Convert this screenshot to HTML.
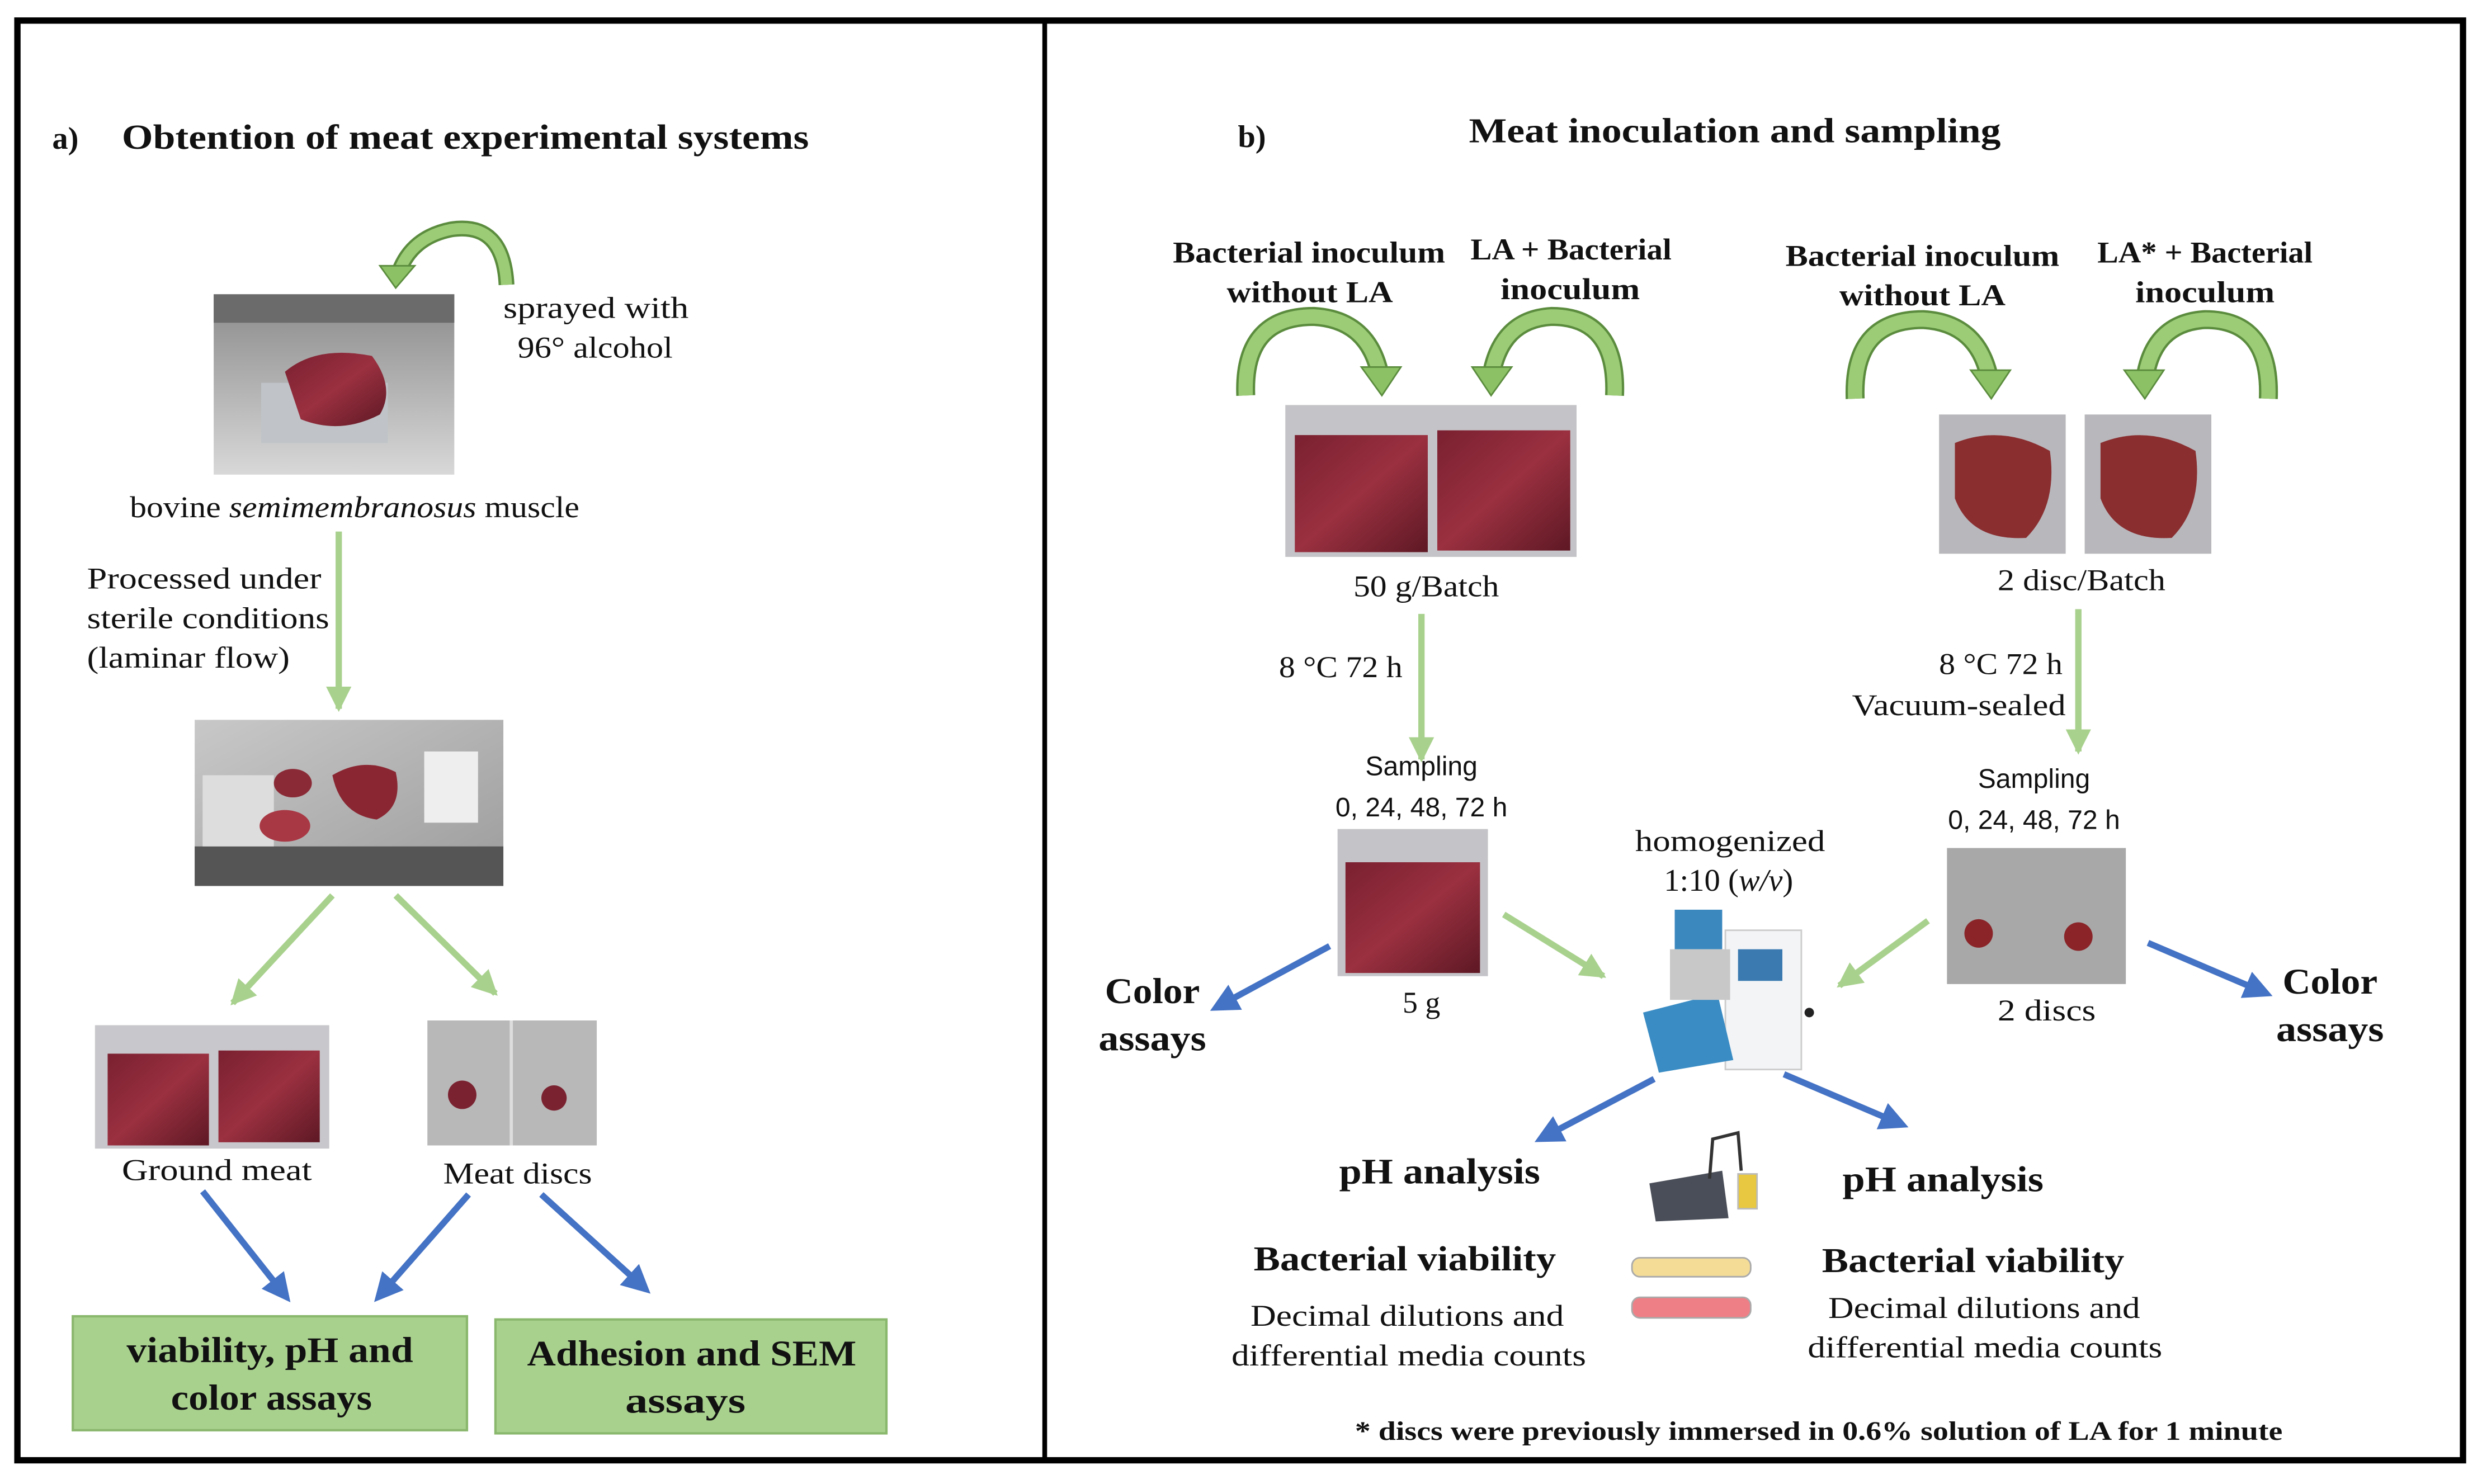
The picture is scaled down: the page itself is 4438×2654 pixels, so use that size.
<!DOCTYPE html>
<html><head><meta charset="utf-8">
<style>html,body{margin:0;padding:0;background:#fff}svg{display:block}</style></head>
<body>
<svg width="4438" height="2654" viewBox="0 0 1568 938" preserveAspectRatio="none" xmlns="http://www.w3.org/2000/svg">
<defs>
<marker id="mg" markerUnits="userSpaceOnUse" markerWidth="22" markerHeight="22" refX="14" refY="8" orient="auto"><path d="M0,0 L16,8 L0,16 Z" fill="#a9d18e"/></marker>
<marker id="mb" markerUnits="userSpaceOnUse" markerWidth="24" markerHeight="24" refX="14" refY="9" orient="auto"><path d="M0,0 L18,9 L0,18 Z" fill="#4472c4"/></marker>
<linearGradient id="meat" x1="0" y1="0" x2="1" y2="1"><stop offset="0" stop-color="#7a2030"/><stop offset="0.5" stop-color="#9a3040"/><stop offset="1" stop-color="#5e1824"/></linearGradient>
<linearGradient id="gr" x1="0" y1="0" x2="0" y2="1"><stop offset="0" stop-color="#8a8a8a"/><stop offset="1" stop-color="#d8d8d8"/></linearGradient>
<linearGradient id="gr2" x1="0" y1="0" x2="1" y2="1"><stop offset="0" stop-color="#c8c8c8"/><stop offset="1" stop-color="#9c9c9c"/></linearGradient>
</defs>
<rect x="0" y="0" width="1568" height="938" fill="#fff"/>
<rect x="11" y="13" width="1545" height="910" fill="none" stroke="#000" stroke-width="4"/>
<line x1="660" y1="13" x2="660" y2="923" stroke="#000" stroke-width="3"/>

<g font-family="Liberation Serif, serif" fill="#111" lengthAdjust="spacingAndGlyphs">
<!-- LEFT -->
<text x="33" y="94" font-size="20" font-weight="bold">a)</text>
<text x="77" y="94" font-size="22" font-weight="bold" textLength="434" lengthAdjust="spacingAndGlyphs">Obtention of meat experimental systems</text>
<path d="M320,180 Q318,140 285,145 Q260,150 252,172" fill="none" stroke="#5b8c3e" stroke-width="10"/>
<path d="M320,180 Q318,140 285,145 Q260,150 252,172" fill="none" stroke="#9ccc76" stroke-width="7"/>
<path d="M240,168 L262,168 L250,182 Z" fill="#8cc265" stroke="#5b8c3e" stroke-width="1"/>
<rect x="135" y="186" width="152" height="114" fill="url(#gr)"/>
<rect x="135" y="186" width="152" height="18" fill="#6b6b6b"/>
<rect x="165" y="242" width="80" height="38" fill="#c0c4c8"/>
<path d="M180,235 Q200,218 235,225 Q250,245 240,262 Q215,275 190,265 Z" fill="url(#meat)"/>
<text x="318" y="201" font-size="19" textLength="117" lengthAdjust="spacingAndGlyphs">sprayed with</text>
<text x="327" y="226" font-size="19" textLength="98" lengthAdjust="spacingAndGlyphs">96° alcohol</text>
<text x="82" y="327" font-size="19" textLength="284" lengthAdjust="spacingAndGlyphs">bovine <tspan font-style="italic">semimembranosus</tspan> muscle</text>
<line x1="214" y1="336" x2="214" y2="448" stroke="#a9d18e" stroke-width="4" marker-end="url(#mg)"/>
<text x="55" y="372" font-size="19" textLength="148" lengthAdjust="spacingAndGlyphs">Processed under</text>
<text x="55" y="397" font-size="19" textLength="153" lengthAdjust="spacingAndGlyphs">sterile conditions</text>
<text x="55" y="422" font-size="19" textLength="128" lengthAdjust="spacingAndGlyphs">(laminar flow)</text>
<rect x="123" y="455" width="195" height="105" fill="url(#gr2)"/>
<rect x="123" y="535" width="195" height="25" fill="#555"/>
<rect x="128" y="490" width="45" height="45" fill="#ddd"/>
<ellipse cx="185" cy="495" rx="12" ry="9" fill="#8a2a36"/>
<ellipse cx="180" cy="522" rx="16" ry="10" fill="#a83844"/>
<path d="M210,490 Q230,478 250,488 Q255,510 238,518 Q215,515 210,490Z" fill="#8a2632"/>
<rect x="268" y="475" width="34" height="45" fill="#eee"/>
<line x1="210" y1="566" x2="147" y2="634" stroke="#a9d18e" stroke-width="4" marker-end="url(#mg)"/>
<line x1="250" y1="566" x2="313" y2="628" stroke="#a9d18e" stroke-width="4" marker-end="url(#mg)"/>
<rect x="60" y="648" width="148" height="78" fill="#c8c8cc"/>
<rect x="68" y="666" width="64" height="58" fill="url(#meat)"/>
<rect x="138" y="664" width="64" height="58" fill="url(#meat)"/>
<rect x="270" y="645" width="107" height="79" fill="#b8b8b8"/>
<line x1="323" y1="645" x2="323" y2="724" stroke="#ddd" stroke-width="2"/>
<circle cx="292" cy="692" r="9" fill="#7a2230"/>
<circle cx="350" cy="694" r="8" fill="#7a2230"/>
<text x="77" y="746" font-size="19" textLength="120" lengthAdjust="spacingAndGlyphs">Ground meat</text>
<text x="280" y="748" font-size="19" textLength="94" lengthAdjust="spacingAndGlyphs">Meat discs</text>
<line x1="128" y1="753" x2="181" y2="820" stroke="#4472c4" stroke-width="4" marker-end="url(#mb)"/>
<line x1="296" y1="755" x2="239" y2="820" stroke="#4472c4" stroke-width="4" marker-end="url(#mb)"/>
<line x1="342" y1="755" x2="408" y2="815" stroke="#4472c4" stroke-width="4" marker-end="url(#mb)"/>
<rect x="46" y="832" width="249" height="72" fill="#a9d18e" stroke="#8ab86d" stroke-width="1.5"/>
<text x="80" y="861" font-size="23" font-weight="bold" textLength="181" lengthAdjust="spacingAndGlyphs">viability, pH and</text>
<text x="108" y="891" font-size="23" font-weight="bold" textLength="127" lengthAdjust="spacingAndGlyphs">color assays</text>
<rect x="313" y="834" width="247" height="72" fill="#a9d18e" stroke="#8ab86d" stroke-width="1.5"/>
<text x="333" y="863" font-size="23" font-weight="bold" textLength="208" lengthAdjust="spacingAndGlyphs">Adhesion and SEM</text>
<text x="395" y="893" font-size="23" font-weight="bold" textLength="76" lengthAdjust="spacingAndGlyphs">assays</text>

<!-- RIGHT -->
<text x="782" y="93" font-size="20" font-weight="bold">b)</text>
<text x="928" y="90" font-size="22" font-weight="bold" textLength="336" lengthAdjust="spacingAndGlyphs">Meat inoculation and sampling</text>
<g font-size="19" font-weight="bold">
<text x="741" y="166" textLength="172" lengthAdjust="spacingAndGlyphs">Bacterial inoculum</text><text x="775" y="191" textLength="105" lengthAdjust="spacingAndGlyphs">without LA</text>
<text x="929" y="164" textLength="127" lengthAdjust="spacingAndGlyphs">LA + Bacterial</text><text x="948" y="189" textLength="88" lengthAdjust="spacingAndGlyphs">inoculum</text>
<text x="1128" y="168" textLength="173" lengthAdjust="spacingAndGlyphs">Bacterial inoculum</text><text x="1162" y="193" textLength="105" lengthAdjust="spacingAndGlyphs">without LA</text>
<text x="1325" y="166" textLength="136" lengthAdjust="spacingAndGlyphs">LA* + Bacterial</text><text x="1349" y="191" textLength="88" lengthAdjust="spacingAndGlyphs">inoculum</text>
</g>
<g fill="none">
<path d="M787,250 Q785,200 830,200 Q865,202 872,238" stroke="#5b8c3e" stroke-width="12"/>
<path d="M787,250 Q785,200 830,200 Q865,202 872,238" stroke="#9ccc76" stroke-width="9"/>
<path d="M1020,250 Q1022,200 980,200 Q948,202 942,238" stroke="#5b8c3e" stroke-width="12"/>
<path d="M1020,250 Q1022,200 980,200 Q948,202 942,238" stroke="#9ccc76" stroke-width="9"/>
<path d="M1172,252 Q1170,202 1215,202 Q1250,204 1257,240" stroke="#5b8c3e" stroke-width="12"/>
<path d="M1172,252 Q1170,202 1215,202 Q1250,204 1257,240" stroke="#9ccc76" stroke-width="9"/>
<path d="M1433,252 Q1435,202 1393,202 Q1360,204 1355,240" stroke="#5b8c3e" stroke-width="12"/>
<path d="M1433,252 Q1435,202 1393,202 Q1360,204 1355,240" stroke="#9ccc76" stroke-width="9"/>
</g>
<path d="M860,232 L885,232 L873,250 Z" fill="#8cc265" stroke="#5b8c3e"/>
<path d="M930,232 L955,232 L942,250 Z" fill="#8cc265" stroke="#5b8c3e"/>
<path d="M1245,234 L1270,234 L1258,252 Z" fill="#8cc265" stroke="#5b8c3e"/>
<path d="M1342,234 L1367,234 L1355,252 Z" fill="#8cc265" stroke="#5b8c3e"/>
<rect x="812" y="256" width="184" height="96" fill="#c4c4c8"/>
<rect x="818" y="275" width="84" height="74" fill="url(#meat)"/>
<rect x="908" y="272" width="84" height="76" fill="url(#meat)"/>
<text x="855" y="377" font-size="19" textLength="92" lengthAdjust="spacingAndGlyphs">50 g/Batch</text>
<line x1="898" y1="388" x2="898" y2="480" stroke="#a9d18e" stroke-width="4" marker-end="url(#mg)"/>
<text x="808" y="428" font-size="19" textLength="78" lengthAdjust="spacingAndGlyphs">8 °C 72 h</text>
<g font-family="Liberation Sans, sans-serif" font-size="17" text-anchor="middle">
<text x="898" y="490">Sampling</text><text x="898" y="516">0, 24, 48, 72 h</text>
<text x="1285" y="498">Sampling</text><text x="1285" y="524">0, 24, 48, 72 h</text>
</g>
<rect x="845" y="524" width="95" height="93" fill="#c4c4c8"/>
<rect x="850" y="545" width="85" height="70" fill="url(#meat)"/>
<text x="898" y="640" font-size="19" text-anchor="middle">5 g</text>
<line x1="840" y1="598" x2="768" y2="637" stroke="#4472c4" stroke-width="4" marker-end="url(#mb)"/>
<text x="698" y="634" font-size="23" font-weight="bold" textLength="60" lengthAdjust="spacingAndGlyphs">Color</text>
<text x="694" y="664" font-size="23" font-weight="bold" textLength="68" lengthAdjust="spacingAndGlyphs">assays</text>
<line x1="950" y1="578" x2="1013" y2="617" stroke="#a9d18e" stroke-width="4" marker-end="url(#mg)"/>
<text x="1033" y="538" font-size="19" textLength="120" lengthAdjust="spacingAndGlyphs">homogenized</text>
<text x="1092" y="563" font-size="20" text-anchor="middle">1:10 (<tspan font-style="italic">w/v</tspan>)</text>
<!-- homogenizer -->
<rect x="1090" y="588" width="48" height="88" fill="#f2f4f6" stroke="#ccc"/>
<rect x="1098" y="600" width="28" height="20" fill="#3a7ab0"/>
<rect x="1058" y="575" width="30" height="25" fill="#3b88bf"/>
<path d="M1038,640 L1085,628 L1095,670 L1048,678 Z" fill="#3a8cc4"/>
<rect x="1055" y="600" width="38" height="32" fill="#c8c8c8"/>
<circle cx="1143" cy="640" r="3" fill="#222"/>
<rect x="1225" y="262" width="80" height="88" fill="#b8b8bc"/>
<rect x="1317" y="262" width="80" height="88" fill="#b8b8bc"/>
<path d="M1235,280 Q1265,268 1295,285 Q1300,320 1280,340 Q1245,342 1235,315Z" fill="#8a2e30"/>
<path d="M1327,280 Q1357,268 1387,285 Q1392,320 1372,340 Q1337,342 1327,315Z" fill="#8a2e30"/>
<text x="1262" y="373" font-size="19" textLength="106" lengthAdjust="spacingAndGlyphs">2 disc/Batch</text>
<line x1="1313" y1="385" x2="1313" y2="475" stroke="#a9d18e" stroke-width="4" marker-end="url(#mg)"/>
<text x="1225" y="426" font-size="19" textLength="78" lengthAdjust="spacingAndGlyphs">8 °C 72 h</text>
<text x="1170" y="452" font-size="19" textLength="135" lengthAdjust="spacingAndGlyphs">Vacuum-sealed</text>
<rect x="1230" y="536" width="113" height="86" fill="#a8a8a8"/>
<circle cx="1250" cy="590" r="9" fill="#8a2428"/>
<circle cx="1313" cy="592" r="9" fill="#8a2428"/>
<text x="1293" y="645" font-size="19" text-anchor="middle" textLength="62" lengthAdjust="spacingAndGlyphs">2 discs</text>
<line x1="1218" y1="582" x2="1162" y2="623" stroke="#a9d18e" stroke-width="4" marker-end="url(#mg)"/>
<line x1="1357" y1="596" x2="1432" y2="628" stroke="#4472c4" stroke-width="4" marker-end="url(#mb)"/>
<text x="1442" y="628" font-size="23" font-weight="bold" textLength="60" lengthAdjust="spacingAndGlyphs">Color</text>
<text x="1438" y="658" font-size="23" font-weight="bold" textLength="68" lengthAdjust="spacingAndGlyphs">assays</text>
<line x1="1045" y1="682" x2="973" y2="720" stroke="#4472c4" stroke-width="4" marker-end="url(#mb)"/>
<line x1="1127" y1="679" x2="1202" y2="711" stroke="#4472c4" stroke-width="4" marker-end="url(#mb)"/>
<text x="846" y="748" font-size="23" font-weight="bold" textLength="127" lengthAdjust="spacingAndGlyphs">pH analysis</text>
<text x="1164" y="753" font-size="23" font-weight="bold" textLength="127" lengthAdjust="spacingAndGlyphs">pH analysis</text>
<!-- pH meter and petri -->
<path d="M1042,748 L1088,740 L1092,770 L1046,772 Z" fill="#4a4e58"/>
<path d="M1080,745 L1082,720 L1098,716 L1100,740" fill="none" stroke="#333" stroke-width="2"/>
<rect x="1098" y="742" width="12" height="22" fill="#e8c840" stroke="#bbb"/>
<rect x="1031" y="795" width="75" height="12" rx="5" fill="#f4dc96" stroke="#aaa"/>
<rect x="1031" y="820" width="75" height="13" rx="5" fill="#ef7f86" stroke="#aaa"/>
<text x="792" y="803" font-size="22" font-weight="bold" textLength="191" lengthAdjust="spacingAndGlyphs">Bacterial viability</text>
<text x="790" y="838" font-size="19" textLength="198" lengthAdjust="spacingAndGlyphs">Decimal dilutions and</text>
<text x="778" y="863" font-size="19" textLength="224" lengthAdjust="spacingAndGlyphs">differential media counts</text>
<text x="1151" y="804" font-size="22" font-weight="bold" textLength="191" lengthAdjust="spacingAndGlyphs">Bacterial viability</text>
<text x="1155" y="833" font-size="19" textLength="197" lengthAdjust="spacingAndGlyphs">Decimal dilutions and</text>
<text x="1142" y="858" font-size="19" textLength="224" lengthAdjust="spacingAndGlyphs">differential media counts</text>
<text x="856" y="910" font-size="17" font-weight="bold" textLength="586" lengthAdjust="spacingAndGlyphs">* discs were previously immersed in 0.6% solution of LA for 1 minute</text>
</g>
</svg>
</body></html>
